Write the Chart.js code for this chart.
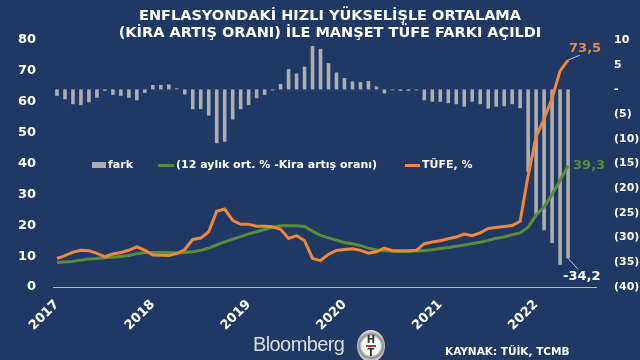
<!DOCTYPE html>
<html>
<head>
<meta charset="utf-8">
<script src="https://cdn.jsdelivr.net/npm/chart.js@4"></script>
<style>
body { margin: 0; background: #1f3864; }
#wrap { position: relative; width: 640px; height: 360px; background: #1f3864; overflow: hidden;
        font-family: "DejaVu Sans", Verdana, sans-serif; color: #fff; }
#wrap canvas { position: absolute; left: 0; top: 0; }
.title { position: absolute; left: 10px; width: 640px; top: 7px; text-align: center;
         font-weight: bold; font-size: 14.5px; line-height: 17px; }
.leg { position: absolute; top: 158px; font-weight: bold; font-size: 11px; line-height: 14px; white-space: nowrap; }
.leg i { display: inline-block; vertical-align: middle; margin-right: 2px; }
.logo { position: absolute; left: 253px; top: 333px; font-family: "Liberation Sans", Arial, sans-serif;
        font-size: 20px; color: #dcdcdc; letter-spacing: -0.6px; }
.ht { position: absolute; left: 357px; top: 330px; width: 28px; height: 32px; border-radius: 50%;
      background: radial-gradient(circle, #fff 42%, #8a8a8a 55%, #e6e6e6 72%, #6d6d6d 100%); }
.ht span { position: absolute; left: 0; width: 28px; text-align: center; font: bold 10px "DejaVu Sans"; color: #333; }
.ht b { position: absolute; left: 9px; top: 15px; width: 10px; height: 2px; background: #c0262d; }
.src { position: absolute; left: 445px; top: 345px; font-weight: bold; font-size: 10.5px; }
</style>
</head>
<body>
<div id="wrap">
  <canvas id="chart" width="640" height="360"></canvas>
  <div class="title">ENFLASYONDAKİ HIZLI YÜKSELİŞLE ORTALAMA<br>(KİRA ARTIŞ ORANI) İLE MANŞET TÜFE FARKI AÇILDI</div>
  <div class="leg" style="left:92px"><i style="width:14px;height:6px;background:#aeaeae"></i>fark</div>
  <div class="leg" style="left:158px"><i style="width:16px;height:3px;background:#5a8c3c"></i>(12 aylık ort. % -Kira artış oranı)</div>
  <div class="leg" style="left:405px"><i style="width:15px;height:3px;background:#f0873a"></i>TÜFE, %</div>
  <div class="logo">Bloomberg</div>
  <div class="ht"><span style="top:4px">H</span><b></b><span style="top:17px">T</span></div>
  <div class="src">KAYNAK: TÜİK, TCMB</div>
</div>
<script>
const years = ['2017', '2018', '2019', '2020', '2021', '2022']

// TÜFE, yıllık %  (Oca 2017 - May 2022)
const tufe = [
  9.22, 10.13, 11.29, 11.87, 11.72, 10.90, 9.79, 10.68, 11.20, 11.90, 12.98, 11.92,
  10.35, 10.26, 10.23, 10.85, 12.15, 15.39, 15.85, 17.90, 24.52, 25.24, 21.62, 20.30,
  20.35, 19.67, 19.71, 19.50, 18.71, 15.72, 16.65, 15.01, 9.26, 8.55, 10.56, 11.84,
  12.15, 12.37, 11.86, 10.94, 11.39, 12.62, 11.76, 11.77, 11.75, 11.89, 14.03, 14.60,
  14.97, 15.61, 16.19, 17.14, 16.59, 17.53, 18.95, 19.25, 19.58, 19.89, 21.31, 36.08,
  48.69, 54.44, 61.14, 69.97, 73.5
]

// kira artış oranı, 12 aylık ort. %
const kira = [
  7.9, 8.1, 8.3, 8.7, 9.1, 9.2, 9.5, 9.6, 9.9, 10.2, 10.8, 11.2,
  11.2, 11.2, 11.2, 11.0, 11.2, 11.4, 11.9, 12.6, 13.6, 14.6, 15.5, 16.3,
  17.2, 17.9, 18.6, 19.3, 19.8, 19.8, 19.8, 19.6, 18.1, 16.7, 15.9, 15.2,
  14.4, 14.0, 13.4, 12.6, 12.0, 11.8, 11.6, 11.5, 11.5, 11.7, 11.8, 12.1,
  12.5, 12.8, 13.2, 13.6, 14.1, 14.5, 15.1, 15.8, 16.2, 16.9, 17.5, 19.4,
  23.3, 25.9, 30.0, 34.5, 39.3
]

// fark (sağ eksen)
const fark = [
  -1.3, -2.0, -3.0, -3.2, -2.6, -1.7, -0.3, -1.1, -1.3, -1.7, -2.2, -0.7,
  0.9, 0.9, 1.0, 0.2, -1.0, -4.0, -4.0, -5.3, -10.9, -10.6, -6.1, -4.0,
  -3.2, -1.8, -1.1, -0.2, 1.1, 4.1, 3.2, 4.6, 8.8, 8.2, 5.3, 3.4,
  2.3, 1.6, 1.5, 1.7, 0.6, -0.8, -0.2, -0.3, -0.3, -0.2, -2.2, -2.5,
  -2.5, -2.8, -3.0, -3.5, -2.5, -3.0, -3.9, -3.5, -3.4, -3.0, -3.8, -16.7,
  -25.4, -28.5, -31.1, -35.5, -34.2
]

// month slots, the axis runs a little past the last value
const months = []
years.forEach(y => {
  for (let m = 1; m <= 12; m++) months.push(y + '-' + String(m).padStart(2, '0'))
})
months.length = 68

const fmt = v => v.toFixed(1).replace('.', ',')

// value labels at the end of each series
const endLabels = {
  id: 'endLabels',
  afterDatasetsDraw(chart) {
    const ctx = chart.ctx
    const last = tufe.length - 1
    const bar = chart.getDatasetMeta(0).data[last]
    const green = chart.getDatasetMeta(1).data[last]
    const orange = chart.getDatasetMeta(2).data[last]
    ctx.save()
    ctx.strokeStyle = '#c8c8c8'
    ctx.lineWidth = 1
    ctx.beginPath()
    ctx.moveTo(orange.x, orange.y)
    ctx.lineTo(orange.x + 12, orange.y - 5)
    ctx.moveTo(bar.x, bar.y)
    ctx.lineTo(bar.x + 10, bar.y + 11)
    ctx.stroke()
    ctx.font = 'bold 13px "DejaVu Sans"'
    ctx.textBaseline = 'middle'
    ctx.fillStyle = '#f0873a'
    ctx.fillText(fmt(tufe[last]), orange.x + 1, orange.y - 11)
    ctx.fillStyle = '#5a8c3c'
    ctx.fillText(fmt(kira[last]), green.x + 5, green.y)
    ctx.fillStyle = '#ffffff'
    ctx.fillText(fmt(fark[last]), bar.x - 5, bar.y + 18)
    ctx.restore()
  }
}

const ctx = document.getElementById('chart')

new Chart(ctx, {
  type: 'bar',
  data: {
    labels: months,
    datasets: [{
      label: 'fark',
      data: fark,
      yAxisID: 'y2',
      backgroundColor: '#aeaeae',
      barPercentage: 0.45,
      categoryPercentage: 1,
      order: 3
    }, {
      type: 'line',
      label: '(12 aylık ort. % -Kira artış oranı)',
      data: kira,
      yAxisID: 'y',
      borderColor: '#5a8c3c',
      borderWidth: 3,
      pointRadius: 0,
      order: 2
    }, {
      type: 'line',
      label: 'TÜFE, %',
      data: tufe,
      yAxisID: 'y',
      borderColor: '#f0873a',
      borderWidth: 3,
      pointRadius: 0,
      order: 1
    }]
  },
  options: {
    responsive: false,
    animation: false,
    layout: { padding: { top: 40, left: 0, right: 0, bottom: 0 } },
    plugins: { legend: { display: false }, tooltip: { enabled: false } },
    scales: {
      x: {
        offset: true,
        grid: { display: false },
        border: { color: '#bfbfbf', width: 1 },
        ticks: {
          autoSkip: false,
          minRotation: 45,
          maxRotation: 45,
          padding: 2,
          color: '#fff',
          font: { family: 'DejaVu Sans', weight: 'bold', size: 13 },
          callback: (v, i) => months[i].endsWith('-01') ? months[i].slice(0, 4) : ''
        },
        afterFit: s => { s.height = 73 }
      },
      y: {
        position: 'left',
        min: 0,
        max: 80,
        grid: { display: false },
        border: { display: false },
        ticks: {
          stepSize: 10,
          padding: 9,
          color: '#fff',
          font: { family: 'DejaVu Sans', weight: 'bold', size: 13 }
        },
        afterFit: s => { s.width = 53 }
      },
      y2: {
        position: 'right',
        min: -40,
        max: 10,
        grid: { display: false },
        border: { display: false },
        ticks: {
          stepSize: 5,
          padding: 10,
          color: '#fff',
          font: { family: 'DejaVu Sans', weight: 'bold', size: 11 },
          callback: v => v > 0 ? v : v === 0 ? '-' : '(' + (-v) + ')'
        },
        afterFit: s => { s.width = 44 }
      }
    }
  },
  plugins: [endLabels]
})
</script>
</body>
</html>
